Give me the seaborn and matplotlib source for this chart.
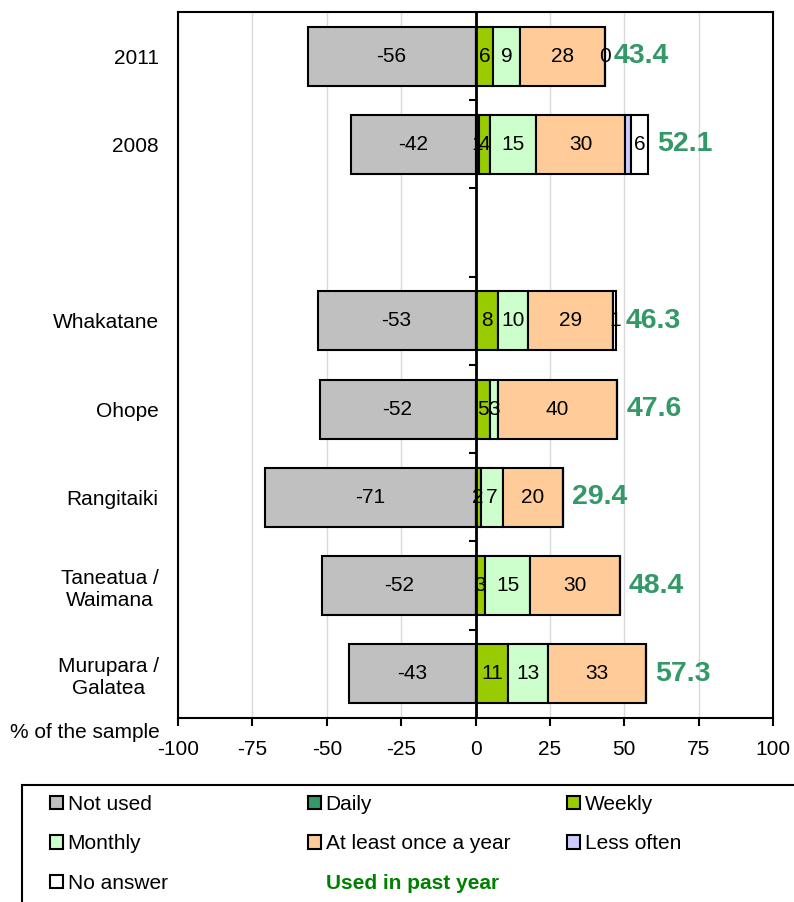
# -*- coding: utf-8 -*-
"""
Frequency of use by area - stacked horizontal bars (not used shown negative)
"""

import numpy as np
import pandas as pd
import matplotlib
matplotlib.use("Agg")
import matplotlib.pyplot as plt
from matplotlib.patches import Patch, Rectangle
import seaborn as sns


#%% DATA

regions = ['2011', '2008', 'Whakatane', 'Ohope', 'Rangitaiki',
           'Taneatua /\nWaimana', 'Murupara /\nGalatea']
#blank slot between the survey years and the areas
order = ['2011', '2008', ' ', 'Whakatane', 'Ohope', 'Rangitaiki',
         'Taneatua /\nWaimana', 'Murupara /\nGalatea']

not_used   = [-56.4, -42.0, -53.0, -52.4, -70.9, -51.6, -42.6]
daily      = [np.nan, 1.2, np.nan, np.nan, np.nan, np.nan, np.nan]
weekly     = [6.0, 3.6, 7.7, 4.9, 1.7, 3.3, 11.0]
monthly    = [9.1, 15.4, 9.9, 2.7, 7.4, 15.0, 13.3]
yearly     = [28.3, 30.2, 28.7, 40.0, 20.3, 30.1, 33.0]
less_often = [np.nan, 1.7, np.nan, np.nan, np.nan, np.nan, np.nan]
no_answer  = [0.0, 6.0, 1.0, np.nan, np.nan, np.nan, np.nan]
used_past_year = [43.4, 52.1, 46.3, 47.6, 29.4, 48.4, 57.3]

series = {'Not used': not_used, 'Daily': daily, 'Weekly': weekly,
          'Monthly': monthly, 'At least once a year': yearly,
          'Less often': less_often, 'No answer': no_answer}
colors = {'Not used': '#C0C0C0', 'Daily': '#339966', 'Weekly': '#99CC00',
          'Monthly': '#CCFFCC', 'At least once a year': '#FFCC99',
          'Less often': '#CCCCFF', 'No answer': '#FFFFFF'}
hidden_labels = [('Less often', '2008')]

green_total = '#339966'


#%% PLOT

sns.set_style('white')
plt.rcParams['font.family'] = ['Liberation Sans', 'DejaVu Sans']
plt.rcParams.update({'font.size': 15, 'text.color': 'black', 'axes.labelcolor': 'black',
                     'xtick.color': 'black', 'ytick.color': 'black',
                     'axes.unicode_minus': False})

fig = plt.figure(figsize=(7.94, 9.02), dpi=100)
ax = fig.add_axes([0.2242, 0.204, 0.7494, 0.7827])

positive = ['Daily', 'Weekly', 'Monthly', 'At least once a year', 'Less often', 'No answer']
left = np.zeros(len(regions))

for name, vals in series.items():
    vals = np.array(vals, dtype=float)
    widths = np.nan_to_num(vals)
    df = pd.DataFrame({'region': regions, 'value': widths})
    start = np.zeros(len(regions)) if name == 'Not used' else left.copy()
    sns.barplot(data=df, x='value', y='region', order=order, orient='y',
                color=colors[name], saturation=1, errorbar=None, width=0.67,
                left=start, edgecolor='black', linewidth=1.5, ax=ax)
    labels = []
    for r, v in zip(regions, vals):
        if np.isnan(v) or (name, r) in hidden_labels:
            labels.append('')
        else:
            labels.append('%.0f' % v)
    ax.bar_label(ax.containers[-1], labels=labels, label_type='center',
                 fontsize=15, color='black')
    if name in positive:
        left = left + widths
ends = left

#green totals to the right of each bar
for r, u, e in zip(regions, used_past_year, ends):
    ax.annotate('%.1f' % u, xy=(e, order.index(r)), xytext=(9, 0),
                textcoords='offset pixels', ha='left', va='center',
                fontsize=20.5, fontweight='bold', color=green_total)

ax.set_xlim(-100, 100)
ax.set_xticks(np.arange(-100, 101, 25))
ax.set_xlabel('')
ax.set_ylabel('')
ax.grid(axis='x', color='#d9d9d9', linewidth=1)
ax.set_axisbelow(True)
ax.axvline(0, color='black', linewidth=2, zorder=5)
ax.tick_params(axis='x', direction='out', length=6, width=1.5, pad=10, labelsize=15, bottom=True)
ax.tick_params(axis='y', length=0, pad=14, labelsize=15)
for t in ax.get_yticklabels():
    t.set_multialignment('center')
for sp in ax.spines.values():
    sp.set_visible(True)
    sp.set_color('black')
    sp.set_linewidth(1.5)

#ticks between categories on the zero line
zero_ax = ax.secondary_yaxis(0.5)
zero_ax.set_yticks(np.arange(0.5, len(order) - 1, 1.0))
zero_ax.set_yticklabels([])
zero_ax.tick_params(direction='in', length=5, width=1.5)

fig.text(160 / 794, 1 - 733 / 902, '% of the sample', ha='right', va='center', fontsize=15)

#legend
items = list(series.keys()) + ['Used in past year']
handles = [Patch(facecolor=colors[n], edgecolor='black', linewidth=1.5) for n in series]
handles.append(Patch(facecolor='none', edgecolor='none'))
col_x = [50 / 794, 308 / 794, 567 / 794]
for j in range(3):
    leg = fig.legend(handles[j::3], items[j::3], loc='upper left',
                     bbox_to_anchor=(col_x[j], 1 - 795 / 902), frameon=False,
                     borderpad=0, borderaxespad=0, handlelength=0.6, handleheight=0.6,
                     handletextpad=0.25, labelspacing=0.98, fontsize=15)
    for t in leg.get_texts():
        if t.get_text() == 'Used in past year':
            t.set_color('#008000')
            t.set_fontweight('bold')

fig.add_artist(Rectangle((22 / 794, -0.05), 1.1, 0.05 + 1 - 785 / 902,
                         transform=fig.transFigure, fill=False,
                         edgecolor='black', linewidth=1.5, clip_on=False))

fig.savefig('out.png', dpi=100)
